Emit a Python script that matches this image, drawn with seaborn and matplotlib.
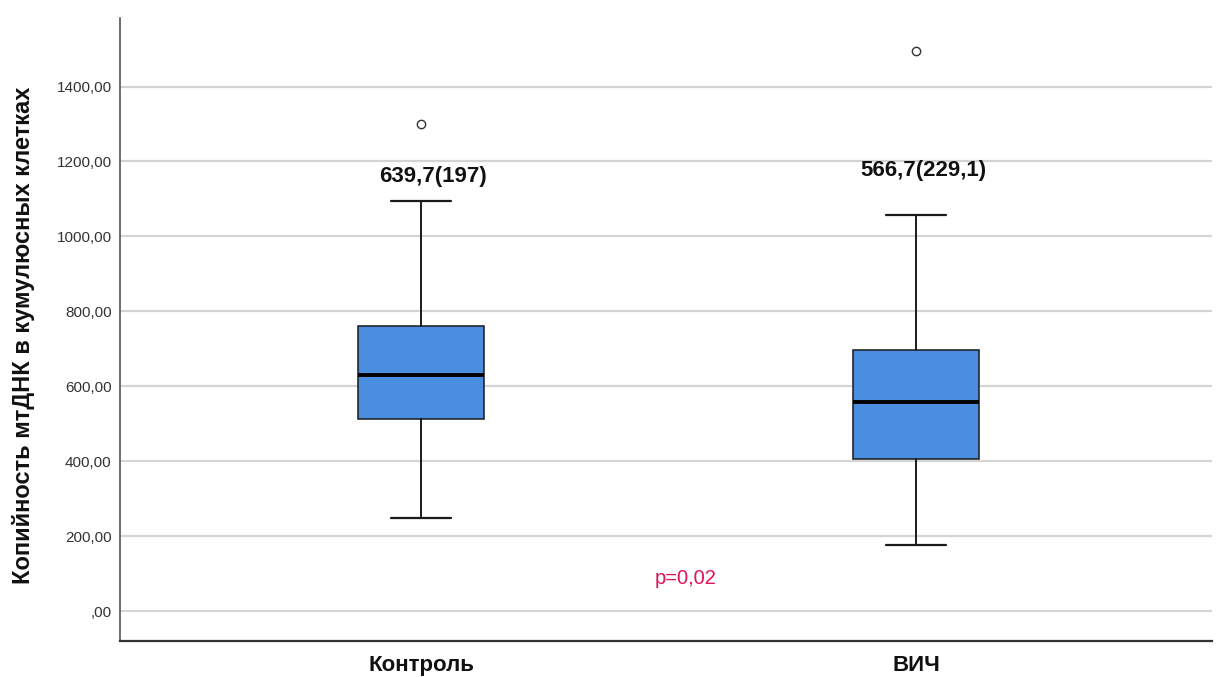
import matplotlib
matplotlib.use("Agg")
import matplotlib.pyplot as plt
import seaborn as sns

# Group names
groups = ["Контроль", "ВИЧ"]

# Five-number summaries per group
whisker_low = [249, 176]
q1 = [513, 405]
median = [630, 559]
q3 = [762, 698]
whisker_high = [1095, 1057]
outliers = [[1300], [1494]]

# Text shown above each box: mean (SD)
summary_labels = ["639,7(197)", "566,7(229,1)"]
summary_y = [1160, 1175]

p_label = "p=0,02"
p_y = 88

y_ticks = [0, 200, 400, 600, 800, 1000, 1200, 1400]
y_tick_labels = [",00", "200,00", "400,00", "600,00", "800,00", "1000,00", "1200,00", "1400,00"]

sns.set_style("white")
plt.rcParams["font.family"] = ["Liberation Sans", "DejaVu Sans"]

fig = plt.figure(figsize=(12.16, 6.77), dpi=100)
ax = fig.add_axes([0.0987, 0.0532, 0.898, 0.9202])

stats = []
for i, g in enumerate(groups):
    stats.append(dict(label=g, whislo=whisker_low[i], q1=q1[i], med=median[i],
                      q3=q3[i], whishi=whisker_high[i], fliers=outliers[i]))

ax.bxp(stats, positions=[0, 1], widths=0.255, patch_artist=True,
       boxprops=dict(facecolor="#4a8fdf", edgecolor="#1a1a1a", linewidth=1.1),
       medianprops=dict(color="black", linewidth=2.8),
       whiskerprops=dict(color="#1a1a1a", linewidth=1.4),
       capprops=dict(color="#1a1a1a", linewidth=1.6),
       capwidths=0.12,
       flierprops=dict(marker="o", markersize=6, markerfacecolor="white",
                       markeredgecolor="#333333", markeredgewidth=1.0))

for i, dx in enumerate([0.024, 0.014]):
    ax.text(i + dx, summary_y[i], summary_labels[i], ha="center", va="center",
            fontsize=16, fontweight="bold", color="#111111")

ax.text(0.535, p_y, p_label, ha="center", va="center", fontsize=14.5,
        color="#e0125a")

ax.set_xlim(-0.608, 1.598)
ax.set_ylim(-80, 1583)
ax.set_yticks(y_ticks)
ax.set_yticklabels(y_tick_labels)
ax.set_xticks([0, 1])
ax.set_xticklabels(groups)
ax.yaxis.grid(True, color="#d4d4d4", linewidth=1.6)
ax.set_axisbelow(True)

for side in ["top", "right"]:
    ax.spines[side].set_visible(False)
ax.spines["left"].set_color("#555555")
ax.spines["bottom"].set_color("#333333")
ax.spines["left"].set_linewidth(1.2)
ax.spines["bottom"].set_linewidth(1.6)

ax.tick_params(axis="y", labelsize=11, labelcolor="#333333", length=0, pad=6)
ax.tick_params(axis="x", labelsize=16, labelcolor="#111111", length=0, pad=10)
for lbl in ax.get_xticklabels():
    lbl.set_fontweight("bold")

ax.set_ylabel("Копийность мтДНК в кумулюсных клетках", fontsize=17,
              fontweight="bold", color="#111111")
ax.yaxis.set_label_coords(-0.078, 0.491)

fig.savefig("out.png", dpi=100)
